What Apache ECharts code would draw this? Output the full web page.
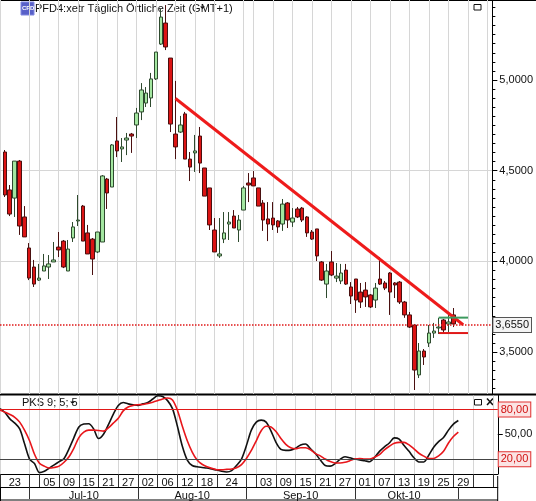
<!DOCTYPE html>
<html>
<head>
<meta charset="utf-8">
<script src="https://cdn.jsdelivr.net/npm/echarts@6/dist/echarts.min.js"></script>
<style>
  html, body { margin: 0; padding: 0; background: #fff; }
  #chart { width: 536px; height: 501px; }
</style>
</head>
<body>
<div id="chart"></div>
<script>
// trading days on the axis (the axis runs a few days past the last bar)
const days = [
  '23.06', '24.06', '25.06', '28.06', '29.06', '30.06',
  '01.07', '02.07', '05.07', '06.07', '07.07', '08.07', '09.07', '12.07', '13.07', '14.07', '15.07',
  '16.07', '19.07', '20.07', '21.07', '22.07', '23.07', '26.07', '27.07', '28.07', '29.07', '30.07',
  '02.08', '03.08', '04.08', '05.08', '06.08', '09.08', '10.08', '11.08', '12.08', '13.08', '16.08',
  '17.08', '18.08', '19.08', '20.08', '23.08', '24.08', '25.08', '26.08', '27.08', '30.08', '31.08',
  '01.09', '02.09', '03.09', '06.09', '07.09', '08.09', '09.09', '10.09', '13.09', '14.09', '15.09',
  '16.09', '17.09', '20.09', '21.09', '22.09', '23.09', '24.09', '27.09', '28.09', '29.09', '30.09',
  '01.10', '04.10', '05.10', '06.10', '07.10', '08.10', '11.10', '12.10', '13.10', '14.10', '15.10',
  '18.10', '19.10', '20.10', '21.10', '22.10', '25.10', '26.10', '27.10', '28.10', '29.10',
  '01.11', '02.11', '03.11', '04.11', '05.11', '08.11', '09.11', '10.11', '11.11'
];

// grid / separator days and month starts
const tickDays = ['23.06', '01.07', '05.07', '09.07', '15.07', '21.07', '27.07', '02.08', '06.08',
  '12.08', '18.08', '24.08', '01.09', '03.09', '09.09', '15.09', '21.09', '27.09', '01.10', '07.10',
  '13.10', '19.10', '25.10', '29.10', '04.11', '10.11'];
const monthStarts = ['01.07', '02.08', '01.09', '01.10', '01.11'];
const monthNames = ['Jul-10', 'Aug-10', 'Sep-10', 'Okt-10'];

// PFD4 daily prices (first day lies left of the visible area)
const open = [null,
  4.603, 4.394, 4.349, 4.553, 4.245,
  4.074, 3.969, 3.897, 3.947, 3.969, 3.997, 4.079, 4.112, 3.947, 4.129, 4.223,
  4.305, 4.157, 4.123, 4.052, 4.107, 4.454, 4.410, 4.664, 4.620, 4.669, 4.702,
  4.752, 4.824, 4.873, 4.901, 5.006, 5.198, 5.314, 5.121, 4.702, 4.713, 4.813,
  4.564, 4.598, 4.691, 4.515, 4.405, 4.173, 4.030, 4.123, 4.206, 4.250, 4.173,
  4.283, 4.432, 4.460, 4.405, 4.322, 4.234, 4.239, 4.223, 4.206, 4.322, 4.217,
  4.289, 4.294, 4.245, 4.162, 4.179, 3.997, 3.875, 3.997, 3.908, 3.892, 3.952,
  3.859, 3.903, 3.831, 3.842, 3.815, 3.787, 3.903, 3.881, 3.936, 3.881, 3.886,
  3.776, 3.705, 3.649, 3.374, 3.506, 3.550, 3.605, 3.633, 3.677, 3.655,
  3.705];
const close = [null,
  4.366, 4.261, 4.553, 4.195, 4.135,
  3.908, 3.875, 3.908, 3.975, 3.986, 4.008, 4.063, 3.969, 4.068, 4.190, 4.228,
  4.112, 4.041, 4.013, 4.162, 4.471, 4.377, 4.642, 4.609, 4.631, 4.680, 4.691,
  4.818, 4.945, 4.928, 5.006, 5.154, 5.347, 5.182, 4.757, 4.631, 4.752, 4.564,
  4.520, 4.609, 4.542, 4.360, 4.201, 4.052, 4.041, 4.157, 4.217, 4.184, 4.228,
  4.405, 4.421, 4.416, 4.305, 4.228, 4.206, 4.201, 4.190, 4.316, 4.228, 4.239,
  4.245, 4.228, 4.157, 4.123, 4.030, 3.897, 3.947, 3.925, 3.919, 3.936, 3.875,
  3.809, 3.787, 3.776, 3.804, 3.749, 3.853, 3.875, 3.853, 3.831, 3.870, 3.776,
  3.705, 3.638, 3.401, 3.506, 3.473, 3.605, 3.616, 3.638, 3.622, 3.666,
  3.655];
const low = [null,
  4.355, 4.250, 4.245, 4.146, 4.135,
  3.897, 3.859, 3.892, 3.947, 3.903, 3.997, 4.024, 3.963, 3.947, 4.107, 4.195,
  4.112, 4.041, 3.925, 4.046, 4.107, 4.289, 4.410, 4.575, 4.548, 4.586, 4.598,
  4.680, 4.779, 4.851, 4.851, 5.000, 5.193, 5.165, 4.713, 4.564, 4.708, 4.564,
  4.443, 4.493, 4.487, 4.360, 4.173, 4.052, 4.019, 4.101, 4.118, 4.184, 4.107,
  4.283, 4.327, 4.416, 4.305, 4.168, 4.112, 4.173, 4.157, 4.168, 4.184, 4.190,
  4.239, 4.217, 4.135, 4.118, 4.002, 3.892, 3.798, 3.919, 3.886, 3.875, 3.870,
  3.765, 3.716, 3.743, 3.749, 3.743, 3.743, 3.870, 3.842, 3.705, 3.798, 3.765,
  3.689, 3.633, 3.291, 3.357, 3.429, 3.528, 3.578, 3.600, 3.600, 3.611,
  3.638];
const high = [null,
  4.614, 4.421, 4.553, 4.559, 4.305,
  4.101, 4.008, 3.986, 4.041, 4.035, 4.107, 4.162, 4.118, 4.118, 4.217, 4.366,
  4.311, 4.201, 4.129, 4.162, 4.476, 4.460, 4.647, 4.796, 4.680, 4.708, 4.708,
  4.846, 4.983, 4.961, 5.039, 5.154, 5.391, 5.413, 5.121, 4.995, 4.802, 4.824,
  4.603, 4.697, 4.741, 4.515, 4.405, 4.239, 4.239, 4.272, 4.272, 4.283, 4.256,
  4.416, 4.487, 4.498, 4.405, 4.338, 4.327, 4.327, 4.228, 4.344, 4.327, 4.294,
  4.300, 4.300, 4.250, 4.173, 4.179, 4.002, 3.986, 4.057, 3.991, 3.986, 3.986,
  3.886, 3.903, 3.881, 3.886, 3.820, 3.881, 4.024, 3.892, 3.941, 3.886, 3.892,
  3.782, 3.721, 3.655, 3.550, 3.517, 3.649, 3.661, 3.689, 3.683, 3.705,
  3.743];

// PKS 9;5;5 stochastic, fast and slow line
const stochK = [81.1, 76.4, 68.7, 63.6, 56.6, 38.3,
  20.1, 14.6, 3.7, 5.3, 9.2, 13.1, 17.0, 20.8, 32.5, 46.1, 58.9,
  62.4, 62.8, 56.6, 44.9, 50.0, 61.7, 74.5, 85.0, 88.5, 86.9, 85.8,
  85.0, 86.9, 88.5, 92.8, 96.7, 95.9, 90.8, 81.1, 59.7, 35.6, 18.9,
  12.3, 10.7, 9.9, 9.2, 8.0, 6.8, 5.3, 4.5, 6.1, 12.3, 20.1,
  36.4, 55.1, 64.8, 67.2, 64.8, 53.9, 40.3, 31.7, 30.6, 30.9, 33.3,
  37.2, 38.3, 32.5, 26.7, 18.9, 12.3, 11.5, 14.6, 19.7, 22.8, 21.6,
  20.1, 18.9, 18.1, 16.9, 22.0, 29.4, 34.8, 39.5, 45.7, 44.2, 36.4,
  29.4, 21.6, 16.6, 16.6, 24.7, 34.4, 41.1, 46.1, 55.1, 62.4,
  66.7];
const stochD = [79.2, 76.8, 74.1, 70.6, 64.8, 54.7,
  42.2, 25.9, 15.0, 11.5, 9.2, 9.9, 11.5, 16.2, 22.8, 33.3, 46.1,
  52.7, 55.1, 55.1, 54.7, 53.9, 57.8, 63.6, 69.4, 78.4, 83.1, 85.0,
  85.8, 86.2, 87.3, 88.9, 90.8, 92.8, 93.9, 91.6, 79.2, 59.7, 42.2,
  28.6, 18.9, 13.8, 10.7, 8.8, 7.2, 7.2, 7.6, 8.0, 9.6, 13.4,
  20.8, 30.5, 42.2, 54.4, 59.7, 59.0, 53.5, 44.9, 37.9, 33.7, 32.5,
  33.7, 33.7, 31.3, 26.7, 23.9, 20.1, 17.0, 15.4, 15.4, 16.2, 18.1,
  20.1, 20.8, 20.1, 20.1, 22.4, 25.5, 31.3, 35.6, 39.1, 40.3, 40.3,
  37.2, 32.5, 27.1, 23.6, 20.8, 20.8, 23.9, 29.4, 39.5, 47.3,
  52.7];
const stochLevels = [80, 20];

// drawn lines: down trend and the short range marks
const trendDays = ['12.08', '03.11'];
const trendValues = [4.898, 3.651];
const rangeDays = ['27.10', '04.11'];
const rangeHigh = 3.690;
const rangeLow = 3.605;

const FONT = '"Liberation Sans Narrow", "Arial Narrow", "Liberation Sans", sans-serif';
const GRID_COLOR = '#d6d6d6';

const lastClose = close[close.length - 1];
const lastIndex = close.length - 1;
const tickIdx = tickDays.map(d => days.indexOf(d));
const monthIdx = monthStarts.map(d => days.indexOf(d));

// day labels sit in the middle of their cell, only wide cells inside the data get one
const dayLabelAt = {};
for (let k = 0; k < tickIdx.length - 1; k++) {
  const a = tickIdx[k], b = tickIdx[k + 1];
  if (b - a >= 4 && a <= lastIndex) dayLabelAt[Math.floor((a + b) / 2)] = tickDays[k].slice(0, 2);
}
const monthLabelAt = {};
for (let k = 0; k < monthNames.length; k++) {
  monthLabelAt[Math.floor((monthIdx[k] + monthIdx[k + 1]) / 2)] = monthNames[k];
}

const isTick = i => tickIdx.indexOf(i) >= 0;
const minorTicks = [];
for (let k = 66; k <= 108; k++) minorTicks.push(+(k * 0.05).toFixed(2));

const ohlc = open.map((o, i) => o == null ? '-' : [o, close[i], low[i], high[i]]);
const deFmt = (v, n) => v.toFixed(n).replace('.', ',');

const txt = { fontFamily: FONT, fontSize: 11, color: '#111' };
const gridLeft = -4.05;
const gridWidth = 501.8;

const option = {
  animation: false,
  backgroundColor: '#fff',
  grid: [
    { left: gridLeft, width: gridWidth, top: 0, height: 394 },
    { left: gridLeft, width: gridWidth, top: 395.5, height: 80.5 }
  ],
  xAxis: [
    {
      type: 'category', gridIndex: 0, data: days, boundaryGap: false,
      axisLine: { show: false }, axisTick: { show: false }, axisLabel: { show: false },
      splitLine: { show: true, interval: isTick, lineStyle: { color: GRID_COLOR } }
    },
    {
      type: 'category', gridIndex: 1, data: days, boundaryGap: false, position: 'bottom',
      axisLine: { show: true, lineStyle: { color: '#000' } },
      axisTick: { show: true, interval: isTick, length: 13, lineStyle: { color: '#333' } },
      axisLabel: {
        interval: i => dayLabelAt[i] !== undefined,
        formatter: (v, i) => dayLabelAt[i] || '',
        margin: 3, ...txt
      },
      splitLine: { show: true, interval: isTick, lineStyle: { color: GRID_COLOR } }
    },
    {
      type: 'category', gridIndex: 1, data: days, boundaryGap: false, position: 'bottom', offset: 13,
      axisLine: { show: true, lineStyle: { color: '#000' } },
      axisTick: { show: true, interval: i => monthIdx.indexOf(i) >= 0, length: 12, lineStyle: { color: '#333' } },
      axisLabel: {
        interval: i => monthLabelAt[i] !== undefined,
        formatter: (v, i) => monthLabelAt[i] || '',
        margin: 3, ...txt
      },
      splitLine: { show: false }
    }
  ],
  yAxis: [
    {
      type: 'value', gridIndex: 0, position: 'right', min: 3.269, max: 5.441,
      axisLine: { show: true, lineStyle: { color: '#000' } },
      axisTick: { show: true, length: 5, customValues: [3.5, 4.0, 4.5, 5.0], lineStyle: { color: '#000' } },
      axisLabel: { customValues: [3.5, 4.0, 4.5, 5.0], formatter: v => deFmt(v, 4), margin: 7, ...txt },
      splitLine: { show: true, showMinLine: false, showMaxLine: false, lineStyle: { color: GRID_COLOR } }
    },
    {
      type: 'value', gridIndex: 0, position: 'right', min: 3.269, max: 5.441,
      axisLine: { show: false },
      axisTick: { show: true, length: 3, customValues: minorTicks, lineStyle: { color: '#000' } },
      axisLabel: { show: false }, splitLine: { show: false }
    },
    {
      type: 'value', gridIndex: 1, position: 'right', min: 2, max: 97,
      axisLine: { show: true, lineStyle: { color: '#000' } },
      axisTick: { show: true, length: 5, customValues: [50], lineStyle: { color: '#000' } },
      axisLabel: { customValues: [50], formatter: v => deFmt(v, 2), margin: 7, ...txt },
      splitLine: { show: false }
    }
  ],
  series: [
    {
      type: 'candlestick', xAxisIndex: 0, yAxisIndex: 0, data: ohlc, barWidth: 4,
      itemStyle: {
        color: '#a3e6a0', color0: '#dc1414',
        borderColor: '#2e4a2e', borderColor0: '#4a1010', borderWidth: 1
      },
      markLine: {
        silent: true, symbol: 'none',
        lineStyle: { color: '#e01818', type: 'dotted', width: 1.5 },
        label: {
          position: 'end', distance: 1, formatter: () => deFmt(lastClose, 4),
          ...txt, backgroundColor: '#f4f4f4', borderColor: '#555', borderWidth: 1, padding: [2, 2, 1, 2]
        },
        data: [{ yAxis: lastClose }]
      }
    },
    {
      type: 'line', xAxisIndex: 0, yAxisIndex: 0, showSymbol: false, silent: true,
      data: trendDays.map((d, i) => [d, trendValues[i]]),
      lineStyle: { color: '#ee1b1b', width: 3 }
    },
    {
      type: 'line', xAxisIndex: 0, yAxisIndex: 0, showSymbol: false, silent: true,
      data: rangeDays.map(d => [d, rangeHigh]),
      lineStyle: { color: '#3c9a5e', width: 2 }
    },
    {
      type: 'line', xAxisIndex: 0, yAxisIndex: 0, showSymbol: false, silent: true,
      data: rangeDays.map(d => [d, rangeLow]),
      lineStyle: { color: '#e01818', width: 2 }
    },
    {
      type: 'line', xAxisIndex: 1, yAxisIndex: 2, data: stochK, showSymbol: false, smooth: 0.3,
      lineStyle: { color: '#111', width: 1.6 },
      markLine: {
        silent: true, symbol: 'none', animation: false,
        data: stochLevels.map((v, k) => ({
          yAxis: v,
          lineStyle: { color: k === 0 ? '#e01818' : '#444', width: 1, type: 'solid' },
          label: {
            position: 'end', distance: 1, formatter: deFmt(v, 2),
            ...txt, color: '#d01010', backgroundColor: '#fbe3e3',
            borderColor: '#e03030', borderWidth: 1, padding: [2, 2, 1, 2]
          }
        }))
      }
    },
    {
      type: 'line', xAxisIndex: 1, yAxisIndex: 2, data: stochD, showSymbol: false, smooth: 0.3,
      lineStyle: { color: '#e8161b', width: 1.6 }
    }
  ],
  graphic: [
    // frame
    { type: 'line', shape: { x1: 0.5, y1: 0, x2: 0.5, y2: 501 }, style: { stroke: '#000', lineWidth: 1 } },
    { type: 'line', shape: { x1: 0, y1: 0.5, x2: 536, y2: 0.5 }, style: { stroke: '#000', lineWidth: 1 } },
    { type: 'line', shape: { x1: 0, y1: 394.5, x2: 536, y2: 394.5 }, style: { stroke: '#000', lineWidth: 2 } },
    { type: 'line', shape: { x1: 0, y1: 500, x2: 498, y2: 500 }, style: { stroke: '#000', lineWidth: 1 } },
    { type: 'line', shape: { x1: 497.7, y1: 476, x2: 497.7, y2: 501 }, style: { stroke: '#000', lineWidth: 1 } },
    // title
    { type: 'rect', shape: { x: 21, y: 2, width: 13, height: 13 }, style: { fill: '#5860c8', stroke: '#8088e0' } },
    { type: 'text', x: 22, y: 5.5, style: { text: 'CFD', fontFamily: FONT, fontSize: 6, fontWeight: 'bold', fill: '#fff' } },
    { type: 'text', x: 35, y: 3, style: { text: 'PFD4:xetr Täglich Örtliche Zeit (GMT+1)', fontFamily: FONT, fontSize: 11, fill: '#111' } },
    { type: 'polygon', shape: { points: [[200, 6.5], [205, 6.5], [202.5, 9]] }, style: { fill: '#111' } },
    { type: 'rect', shape: { x: 474, y: 4.5, width: 7, height: 5.5 }, style: { fill: '#fff', stroke: '#111', lineWidth: 1 } },
    // indicator header
    { type: 'text', x: 22, y: 397, style: { text: 'PKS 9; 5; 5', fontFamily: FONT, fontSize: 11, fill: '#111' } },
    { type: 'polygon', shape: { points: [[70, 401.5], [75, 401.5], [72.5, 404]] }, style: { fill: '#111' } },
    { type: 'rect', shape: { x: 474.5, y: 399.5, width: 7, height: 5.5 }, style: { fill: '#fff', stroke: '#111', lineWidth: 1 } },
    { type: 'line', shape: { x1: 487, y1: 398.5, x2: 493, y2: 405 }, style: { stroke: '#111', lineWidth: 1.5 } },
    { type: 'line', shape: { x1: 493, y1: 398.5, x2: 487, y2: 405 }, style: { stroke: '#111', lineWidth: 1.5 } }
  ]
};

const chart = echarts.init(document.getElementById('chart'));
chart.setOption(option);
</script>
</body>
</html>
